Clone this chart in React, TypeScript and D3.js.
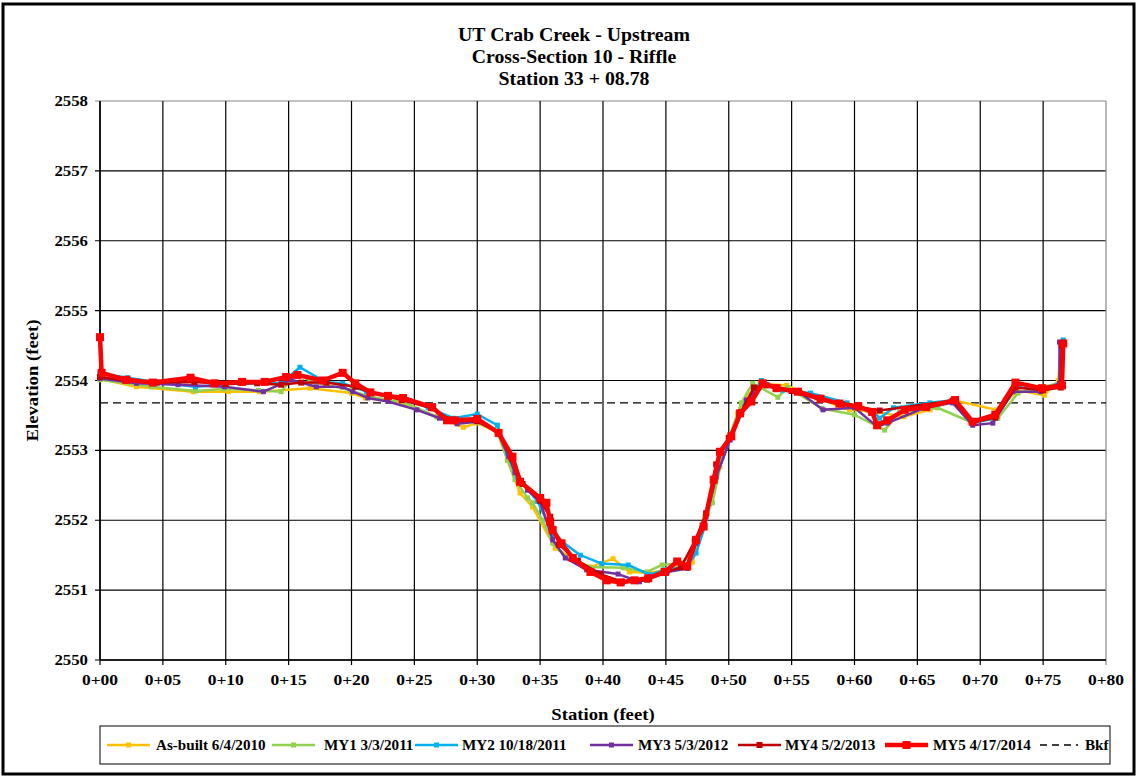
import React from "react";
import * as d3 from "d3";

type P = [number, number];

const titleLines = ["UT Crab Creek - Upstream", "Cross-Section 10 - Riffle", "Station 33 + 08.78"];
const xTicks = [0, 5, 10, 15, 20, 25, 30, 35, 40, 45, 50, 55, 60, 65, 70, 75, 80];
const yTicks = [2550, 2551, 2552, 2553, 2554, 2555, 2556, 2557, 2558];
const bkf = 2553.68;

const asBuilt: P[] = [
  [0, 2554.02], [2.9, 2553.91], [7.4, 2553.84], [10.2, 2553.84], [12.7, 2553.84], [16.7, 2553.89],
  [20.0, 2553.82], [21.1, 2553.75], [24.1, 2553.68], [26.8, 2553.48], [28.9, 2553.33], [30.0, 2553.39],
  [31.6, 2553.26], [32.4, 2552.86], [33.4, 2552.39], [34.4, 2552.19], [36.2, 2551.6], [37.8, 2551.43],
  [39.0, 2551.33], [40.8, 2551.45], [42.1, 2551.26], [43.7, 2551.25], [45.1, 2551.29], [47.1, 2551.4],
  [48.3, 2552.1], [49.3, 2552.76], [50.7, 2553.53], [51.5, 2553.79], [52.5, 2553.96], [54.6, 2553.93],
  [57.0, 2553.75], [59.6, 2553.58], [61.8, 2553.55], [63.9, 2553.48], [66.0, 2553.58], [67.8, 2553.72],
  [71.3, 2553.58], [73.0, 2553.86], [75.1, 2553.79], [76.2, 2554.0], [76.4, 2554.5],
];
const my1: P[] = [
  [0, 2554.01], [4.1, 2553.91], [7.6, 2553.85], [9.8, 2553.88], [12.6, 2553.86], [14.4, 2553.84],
  [15.6, 2554.1], [16.9, 2553.98], [19.9, 2553.86], [21.2, 2553.78], [24.3, 2553.68], [26.8, 2553.48],
  [28.2, 2553.43], [29.8, 2553.41], [31.6, 2553.29], [32.4, 2552.86], [33.0, 2552.58], [34.0, 2552.32],
  [34.4, 2552.25], [35.2, 2552.0], [36.0, 2551.67], [37.1, 2551.47], [38.8, 2551.33], [41.6, 2551.32],
  [43.5, 2551.26], [44.7, 2551.36], [46.3, 2551.39], [47.2, 2551.57], [48.1, 2552.05], [48.7, 2552.25],
  [49.5, 2552.91], [51.0, 2553.68], [51.9, 2553.96], [53.9, 2553.76], [54.7, 2553.9], [57.4, 2553.6],
  [60.0, 2553.51], [62.4, 2553.29], [63.6, 2553.55], [66.6, 2553.61], [69.2, 2553.41], [71.4, 2553.46],
  [73.0, 2553.82], [75.0, 2553.91], [76.3, 2553.96], [76.5, 2554.5],
];
const my2: P[] = [
  [0, 2554.1], [2.2, 2554.04], [4.4, 2553.98], [7.6, 2553.91], [11.1, 2553.96], [14.4, 2553.96],
  [15.9, 2554.19], [17.9, 2553.98], [19.3, 2553.96], [21.2, 2553.84], [24.1, 2553.75], [26.1, 2553.61],
  [28.1, 2553.46], [30.0, 2553.52], [31.6, 2553.36], [32.4, 2552.96], [33.2, 2552.62], [34.8, 2552.27],
  [36.1, 2551.78], [38.2, 2551.5], [39.9, 2551.38], [42.0, 2551.36], [43.7, 2551.22], [44.9, 2551.29],
  [46.7, 2551.34], [47.4, 2551.53], [48.1, 2551.91], [48.9, 2552.58], [50.1, 2553.15], [51.3, 2553.63],
  [52.6, 2554.0], [54.3, 2553.86], [56.5, 2553.82], [59.4, 2553.68], [61.5, 2553.55], [62.0, 2553.46],
  [63.1, 2553.61], [66.0, 2553.68], [68.0, 2553.72], [69.4, 2553.39], [71.2, 2553.46], [72.9, 2553.91],
  [74.8, 2553.86], [76.3, 2553.96], [76.6, 2554.58],
];
const my3: P[] = [
  [0, 2554.03], [2.9, 2553.96], [6.2, 2553.94], [9.9, 2553.91], [13.0, 2553.84], [15.2, 2554.01],
  [17.2, 2553.91], [19.3, 2553.91], [20.1, 2553.84], [21.3, 2553.75], [22.9, 2553.7], [25.2, 2553.58],
  [27.0, 2553.46], [28.4, 2553.38], [30.0, 2553.41], [31.6, 2553.27], [32.5, 2552.91], [33.0, 2552.68],
  [34.0, 2552.43], [35.0, 2552.27], [36.0, 2551.72], [37.0, 2551.46], [38.7, 2551.29], [41.2, 2551.23],
  [42.9, 2551.12], [45.1, 2551.26], [46.7, 2551.31], [47.4, 2551.67], [48.2, 2552.05], [49.0, 2552.62],
  [50.1, 2553.15], [51.4, 2553.72], [52.7, 2553.96], [55.7, 2553.82], [57.5, 2553.58], [60.0, 2553.61],
  [61.8, 2553.34], [62.6, 2553.39], [65.6, 2553.61], [67.8, 2553.68], [69.4, 2553.36], [71.0, 2553.39],
  [72.6, 2553.84], [74.8, 2553.84], [76.3, 2553.96], [76.3, 2554.55],
];
const my4: P[] = [
  [0, 2554.05], [2.0, 2554.0], [4.5, 2553.97], [7.5, 2553.98], [10.0, 2553.95], [12.5, 2553.96],
  [14.4, 2553.94], [16.0, 2553.97], [18.0, 2553.97], [20.3, 2553.91], [21.5, 2553.83], [24.0, 2553.72],
  [26.5, 2553.6], [28.0, 2553.42], [30.0, 2553.42], [31.7, 2553.25], [32.8, 2552.88], [33.6, 2552.52],
  [35.0, 2552.28], [35.8, 2552.05], [36.5, 2551.65], [38.0, 2551.42], [39.8, 2551.23], [41.5, 2551.12],
  [43.5, 2551.15], [45.0, 2551.25], [46.2, 2551.33], [47.3, 2551.7], [48.2, 2552.1], [49.0, 2552.8],
  [50.0, 2553.18], [51.0, 2553.55], [52.0, 2553.9], [53.0, 2553.93], [55.0, 2553.85], [57.3, 2553.72],
  [59.0, 2553.66], [62.0, 2553.57], [67.8, 2553.71], [69.4, 2553.4], [71.2, 2553.47], [72.8, 2553.9],
  [75.0, 2553.86], [76.4, 2553.9], [76.5, 2554.5],
];
const my5: P[] = [
  [0, 2554.62], [0.13, 2554.11], [2.1, 2554.01], [4.2, 2553.97], [7.2, 2554.04], [9.1, 2553.96],
  [11.3, 2553.98], [13.1, 2553.98], [14.8, 2554.05], [15.7, 2554.08], [17.7, 2554.0], [19.3, 2554.11],
  [20.3, 2553.96], [21.5, 2553.83], [22.9, 2553.78], [24.1, 2553.75], [26.4, 2553.62], [27.6, 2553.43],
  [28.2, 2553.43], [30.0, 2553.45], [31.7, 2553.25], [32.8, 2552.91], [33.4, 2552.55], [35.0, 2552.32],
  [35.5, 2552.25], [35.8, 2551.98], [36.0, 2551.86], [36.7, 2551.67], [37.6, 2551.46], [39.0, 2551.26],
  [40.3, 2551.14], [41.4, 2551.11], [42.5, 2551.14], [43.6, 2551.17], [44.9, 2551.26], [45.9, 2551.41],
  [46.7, 2551.34], [47.4, 2551.72], [48.0, 2551.91], [48.8, 2552.58], [49.3, 2552.98], [50.2, 2553.2],
  [50.9, 2553.53], [51.8, 2553.7], [52.7, 2553.96], [53.8, 2553.89], [55.5, 2553.84], [57.3, 2553.74],
  [58.8, 2553.67], [60.3, 2553.63], [61.4, 2553.55], [61.8, 2553.36], [62.6, 2553.43], [64.0, 2553.58],
  [65.7, 2553.62], [68.0, 2553.72], [69.4, 2553.41], [71.2, 2553.51], [72.8, 2553.97], [74.9, 2553.89],
  [76.5, 2553.93], [76.6, 2554.53],
];

const seriesNames = ["As-built 6/4/2010", "MY1 3/3/2011", "MY2 10/18/2011", "MY3 5/3/2012", "MY4 5/2/2013", "MY5 4/17/2014"];
const seriesData = [asBuilt, my1, my2, my3, my4, my5];
const seriesColors = ["#FFC000", "#92D050", "#00B0F0", "#7030A0", "#C00000", "#FF0000"];

const W = 1138, H = 778;
const L = 100, R = 1106, T = 101, B = 660;
const font = "Liberation Serif, Times New Roman, DejaVu Serif, serif";

function SText(props: { x: number; y: number; sx: number; size: number; anchor?: string; rotate?: number; children: React.ReactNode }) {
  const { x, y, sx, size, anchor = "start", rotate = 0, children } = props;
  return (
    <text
      transform={`translate(${x},${y}) rotate(${rotate}) scale(${sx},1)`}
      textAnchor={anchor}
      fontSize={size}
      style={{ fontFamily: font, fontWeight: 700 }}
    >
      {children}
    </text>
  );
}

export default function App() {
  const x = d3.scaleLinear().domain([0, 80]).range([L, R]);
  const y = d3.scaleLinear().domain([2550, 2558]).range([B, T]);
  const line = d3.line<P>().x(d => x(d[0])).y(d => y(d[1]));
  const fmtX = (v: number) => `0+${String(v).padStart(2, "0")}`;

  const widths = [2.5, 2.5, 2.5, 2.5, 2.5, 4.5];
  const markerSize = [5, 5, 5, 5, 6, 8];

  const legendLineX = [107, 272, 415, 590, 738, 885];
  const legendTextX = [156, 324, 462, 638, 785, 933];
  const legendY = 745;

  return (
    <svg width={W} height={H} style={{ position: "absolute", left: 0, top: 0, background: "#fff", fontFamily: font }}>
      <rect x={0} y={0} width={W} height={H} fill="#fff" />
      <rect x={3} y={4} width={1131} height={770} fill="none" stroke="#000" strokeWidth={3} />
      {titleLines.map((t, i) => (
        <SText key={i} x={574} y={41 + i * 22} sx={1.1} size={18} anchor="middle">{t}</SText>
      ))}
      {yTicks.map(v => (
        <line key={"gy" + v} x1={L - 5} x2={R} y1={y(v)} y2={y(v)} stroke={v === 2558 ? "#888" : "#000"} strokeWidth={1.2} />
      ))}
      {xTicks.map(v => (
        <line key={"gx" + v} x1={x(v)} x2={x(v)} y1={T} y2={B + 5} stroke={v === 80 ? "#888" : "#000"} strokeWidth={1.2} />
      ))}
      <line x1={L} x2={L} y1={T} y2={B} stroke="#000" strokeWidth={1.5} />
      <line x1={L} x2={R} y1={B} y2={B} stroke="#000" strokeWidth={1.5} />
      {yTicks.map(v => (
        <SText key={"ty" + v} x={88} y={y(v) + 5} sx={1.2} size={14} anchor="end">{v}</SText>
      ))}
      {xTicks.map(v => (
        <SText key={"tx" + v} x={x(v)} y={685} sx={1.25} size={14} anchor="middle">{fmtX(v)}</SText>
      ))}
      <SText x={603} y={720} sx={1.1} size={17} anchor="middle">Station (feet)</SText>
      <SText x={38} y={(T + B) / 2} sx={1.1} size={17} anchor="middle" rotate={-90}>Elevation (feet)</SText>
      <line x1={L} x2={R} y1={y(bkf)} y2={y(bkf)} stroke="#000" strokeWidth={1.3} strokeDasharray="8,5" />
      {seriesData.map((data, i) => (
        <g key={"s" + i}>
          <path d={line(data) || ""} fill="none" stroke={seriesColors[i]} strokeWidth={widths[i]} strokeLinejoin="round" />
          {data.map((d, j) => (
            <rect key={j} x={x(d[0]) - markerSize[i] / 2} y={y(d[1]) - markerSize[i] / 2} width={markerSize[i]} height={markerSize[i]} fill={seriesColors[i]} />
          ))}
        </g>
      ))}
      <rect x={100} y={726} width={1010} height={38} fill="#fff" stroke="#000" strokeWidth={1} />
      {seriesNames.map((n, i) => (
        <g key={"lg" + i}>
          <line x1={legendLineX[i]} x2={legendLineX[i] + 43} y1={legendY} y2={legendY} stroke={seriesColors[i]} strokeWidth={widths[i]} />
          <rect x={legendLineX[i] + 21.5 - markerSize[i] / 2} y={legendY - markerSize[i] / 2} width={markerSize[i]} height={markerSize[i]} fill={seriesColors[i]} />
          <SText x={legendTextX[i]} y={legendY + 5} sx={1.08} size={14}>{n}</SText>
        </g>
      ))}
      <line x1={1040} x2={1078} y1={legendY} y2={legendY} stroke="#000" strokeWidth={1.3} strokeDasharray="7,5" />
      <SText x={1085} y={legendY + 5} sx={1.08} size={14}>Bkf</SText>
    </svg>
  );
}
